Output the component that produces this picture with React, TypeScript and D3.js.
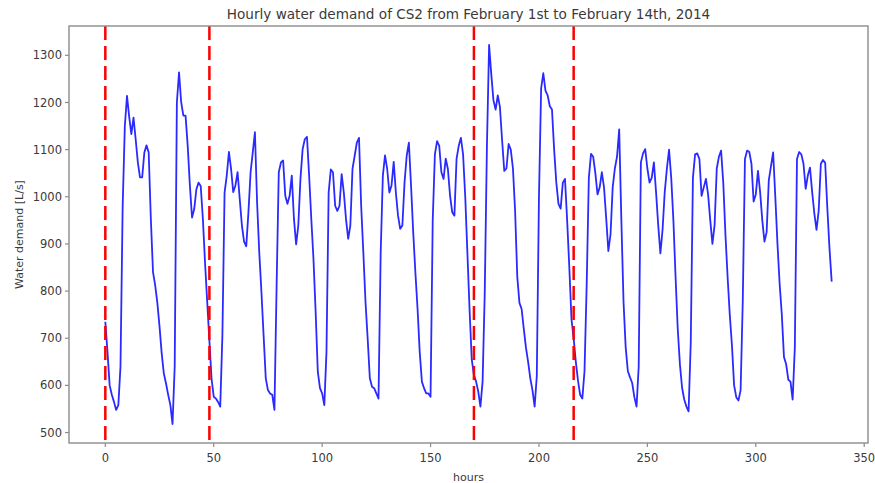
import React from 'react';
import * as d3 from 'd3';

// Hourly water demand [L/s], one array per day (Feb 1 .. Feb 14, 2014)
const day01 = [735, 671, 600, 580, 565, 548, 558, 640, 980, 1150, 1214, 1170, 1133, 1168, 1122, 1073, 1041, 1041, 1094, 1109, 1094, 953, 840, 812];
const day02 = [775, 725, 668, 625, 604, 580, 558, 518, 640, 1200, 1264, 1200, 1172, 1172, 1108, 1024, 956, 974, 1016, 1030, 1023, 953, 859, 777];
const day03 = [695, 614, 576, 572, 565, 555, 706, 1009, 1045, 1095, 1059, 1010, 1024, 1052, 995, 939, 905, 895, 967, 1052, 1094, 1137, 988, 882];
const day04 = [798, 706, 615, 590, 583, 580, 548, 812, 1052, 1073, 1077, 1002, 985, 1002, 1045, 953, 899, 939, 1038, 1101, 1122, 1127, 1045, 953];
const day05 = [868, 756, 629, 594, 583, 558, 671, 1009, 1058, 1052, 981, 970, 981, 1048, 1009, 953, 911, 939, 1059, 1087, 1115, 1125, 981, 882];
const day06 = [777, 699, 615, 597, 594, 583, 572, 882, 1045, 1088, 1059, 1009, 1024, 1074, 1009, 960, 932, 939, 1030, 1087, 1115, 1024, 925, 840];
const day07 = [763, 671, 608, 594, 583, 583, 576, 950, 1090, 1118, 1108, 1052, 1038, 1081, 1059, 1002, 967, 960, 1081, 1108, 1125, 1090, 1000, 880];
const day08 = [760, 655, 622, 608, 587, 555, 608, 798, 1108, 1322, 1260, 1205, 1185, 1215, 1190, 1120, 1055, 1060, 1112, 1100, 1060, 970, 830, 775];
const day09 = [762, 720, 680, 650, 615, 590, 555, 620, 1000, 1230, 1262, 1225, 1215, 1192, 1185, 1100, 1030, 985, 975, 1030, 1038, 950, 850, 740];
const day10 = [700, 650, 610, 580, 572, 630, 812, 1040, 1091, 1085, 1050, 1005, 1020, 1052, 1020, 955, 885, 920, 1020, 1060, 1085, 1143, 950, 777];
const day11 = [680, 630, 617, 605, 575, 555, 640, 1073, 1092, 1101, 1060, 1030, 1040, 1073, 1010, 940, 880, 930, 1010, 1060, 1100, 1040, 950, 830];
const day12 = [720, 645, 595, 570, 555, 545, 690, 1040, 1090, 1092, 1080, 1002, 1020, 1038, 1005, 950, 900, 940, 1060, 1085, 1098, 1030, 920, 830];
const day13 = [750, 685, 600, 575, 568, 590, 780, 1080, 1098, 1095, 1070, 990, 1005, 1055, 1010, 950, 905, 925, 1035, 1065, 1094, 1000, 900, 815];
const day14 = [750, 660, 645, 612, 608, 570, 680, 1080, 1095, 1090, 1070, 1017, 1045, 1062, 1010, 965, 930, 970, 1070, 1078, 1072, 975, 890, 820];

const demand: number[] = [
  ...day01, ...day02, ...day03, ...day04, ...day05, ...day06, ...day07,
  ...day08, ...day09, ...day10, ...day11, ...day12, ...day13, ...day14,
];

// Hours marked with red dashed lines
const markedHours = [0, 48, 170, 216];

const xTicks = [0, 50, 100, 150, 200, 250, 300, 350];
const yTicks = [500, 600, 700, 800, 900, 1000, 1100, 1200, 1300];

const titleText = 'Hourly water demand of CS2 from February 1st to February 14th, 2014';
const xLabel = 'hours';
const yLabel = 'Water demand [L/s]';

export default function App() {
  const W = 875;
  const H = 483;
  const left = 69, right = 868, top = 26, bottom = 443;
  const n = demand.length - 1;
  const xPad = n * 0.05;
  const x = d3.scaleLinear().domain([-xPad, n + xPad]).range([left, right]);
  const [lo, hi] = d3.extent(demand) as [number, number];
  const yPad = (hi - lo) * 0.05;
  const y = d3.scaleLinear().domain([lo - yPad, hi + yPad]).range([bottom, top]);

  const line = d3.line<number>().x((_, i) => x(i)).y((d) => y(d));

  const font = "'DejaVu Sans', sans-serif";
  const textColor = '#3a3a3a';
  const axisColor = '#8c8c8c';

  return (
    <svg width={W} height={H} style={{ position: 'absolute', left: 0, top: 0, background: '#fff' }} fontFamily={font}>
      <rect x={0} y={0} width={W} height={H} fill="#fff" />
      <text x={(left + right) / 2} y={19} textAnchor="middle" fontSize={13.6} fill={textColor}>{titleText}</text>

      <path d={line(demand) || ''} fill="none" stroke="#2a2aff" strokeWidth={1.8} strokeLinejoin="round" />

      {markedHours.map((h) => (
        <line key={h} x1={x(h)} x2={x(h)} y1={top} y2={bottom} stroke="#ff0000" strokeWidth={2.5} strokeDasharray="14 6" />
      ))}

      <rect x={left} y={top} width={right - left} height={bottom - top} fill="none" stroke={axisColor} strokeWidth={1.4} />

      {xTicks.map((t) => (
        <g key={t} transform={`translate(${x(t)},${bottom})`}>
          <line y1={0} y2={4} stroke={axisColor} strokeWidth={1.2} />
          <text y={19} textAnchor="middle" fontSize={11.5} fill={textColor}>{t}</text>
        </g>
      ))}
      {yTicks.map((t) => (
        <g key={t} transform={`translate(${left},${y(t)})`}>
          <line x1={0} x2={-4} stroke={axisColor} strokeWidth={1.2} />
          <text x={-7} dy="0.35em" textAnchor="end" fontSize={11.5} fill={textColor}>{t}</text>
        </g>
      ))}

      <text x={(left + right) / 2} y={481} textAnchor="middle" fontSize={11} fill={textColor}>{xLabel}</text>
      <text transform={`translate(23,${(top + bottom) / 2}) rotate(-90)`} textAnchor="middle" fontSize={11} fill={textColor}>{yLabel}</text>
    </svg>
  );
}
